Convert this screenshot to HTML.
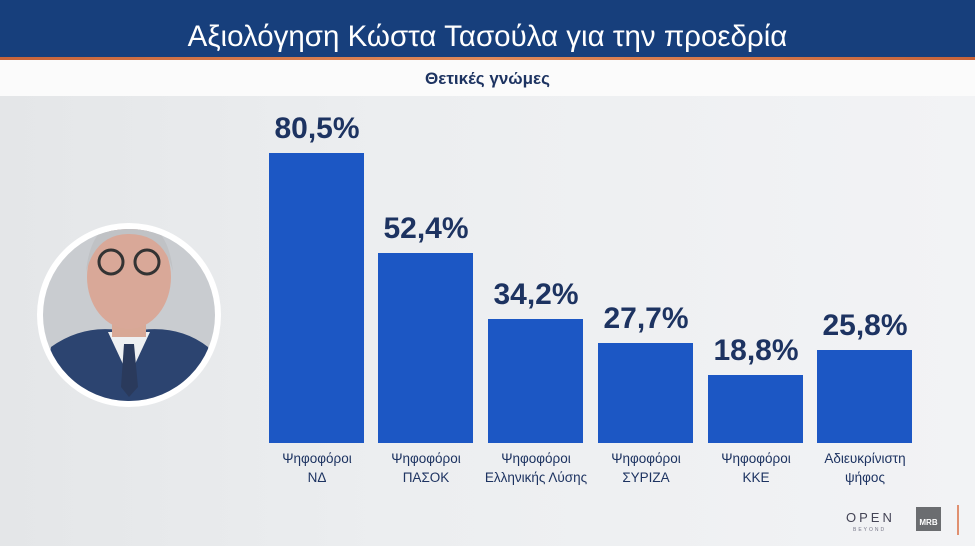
<!DOCTYPE html>
<html><head><meta charset="utf-8"><style>
body{margin:0;width:975px;height:546px;overflow:hidden;position:relative;font-family:"Liberation Sans","DejaVu Sans",sans-serif;background:linear-gradient(90deg,#e4e6e8,#eceef0 40%,#f2f3f5);}
.hdr{position:absolute;left:0;top:0;width:975px;height:57px;background:#173f7c;color:#fff;font-size:29.5px;text-align:center;line-height:74px;}
.or{position:absolute;left:0;top:57px;width:975px;height:3px;background:linear-gradient(90deg,#c8643a,#e08a5a 50%,#c8643a);}
.sub{position:absolute;left:0;top:60px;width:975px;height:36px;background:#fbfbfb;color:#1d3361;font-weight:bold;font-size:17px;text-align:center;line-height:38px;}
.bar{position:absolute;background:#1c57c4;width:95px;bottom:103px;}
.v{position:absolute;width:130px;text-align:center;font-weight:bold;font-size:30px;color:#1d3361;}
.l{position:absolute;width:130px;text-align:center;font-size:13.5px;color:#1d3361;top:449px;line-height:19px;}
</style></head><body>
<div class="hdr">Αξιολόγηση Κώστα Τασούλα για την προεδρία</div>
<div class="or"></div>
<div class="sub">Θετικές γνώμες</div>
<svg style="position:absolute;left:36px;top:222px" width="186" height="186">
<defs><clipPath id="c"><circle cx="93" cy="93" r="86"/></clipPath></defs>
<circle cx="93" cy="93" r="92" fill="#fff"/>
<g clip-path="url(#c)">
<rect width="186" height="186" fill="#c9ccd0"/>
<path d="M5 186 L15 125 Q50 100 93 110 Q140 100 172 125 L182 186Z" fill="#2c4470"/>
<path d="M72 110 L93 155 L114 110Z" fill="#eef0f2"/>
<path d="M88 122 L98 122 L102 165 L93 175 L85 165Z" fill="#2a3a5c"/>
<rect x="76" y="70" width="34" height="45" fill="#d8a896"/>
<ellipse cx="93" cy="55" rx="42" ry="52" fill="#d9a898"/>
<path d="M50 50 Q55 -2 93 -2 Q132 -2 137 50 Q128 12 93 12 Q60 12 50 50Z" fill="#c0c2c5"/>
<circle cx="75" cy="40" r="12" fill="none" stroke="#333" stroke-width="3"/>
<circle cx="111" cy="40" r="12" fill="none" stroke="#333" stroke-width="3"/>
</g></svg>
<div class="bar" style="left:269px;height:290px"></div>
<div class="bar" style="left:378px;height:190px"></div>
<div class="bar" style="left:488px;height:124px"></div>
<div class="bar" style="left:598px;height:100px"></div>
<div class="bar" style="left:708px;height:68px"></div>
<div class="bar" style="left:817px;height:93px"></div>
<div class="v" style="left:252px;top:112px">80,5%</div>
<div class="v" style="left:361px;top:212px">52,4%</div>
<div class="v" style="left:471px;top:278px">34,2%</div>
<div class="v" style="left:581px;top:302px">27,7%</div>
<div class="v" style="left:691px;top:334px">18,8%</div>
<div class="v" style="left:800px;top:309px">25,8%</div>
<div class="l" style="left:252px">Ψηφοφόροι<br>ΝΔ</div>
<div class="l" style="left:361px">Ψηφοφόροι<br>ΠΑΣΟΚ</div>
<div class="l" style="left:471px">Ψηφοφόροι<br>Ελληνικής Λύσης</div>
<div class="l" style="left:581px">Ψηφοφόροι<br>ΣΥΡΙΖΑ</div>
<div class="l" style="left:691px">Ψηφοφόροι<br>ΚΚΕ</div>
<div class="l" style="left:800px">Αδιευκρίνιστη<br>ψήφος</div>
<div style="position:absolute;left:846px;top:510px;font-size:13px;letter-spacing:3px;color:#445">OPEN</div>
<div style="position:absolute;left:853px;top:527px;font-size:5px;letter-spacing:2px;color:#778">BEYOND</div>
<div style="position:absolute;left:916px;top:507px;width:25px;height:24px;background:#6b6d70;color:#fff;font-size:8px;font-weight:bold;line-height:32px;text-align:center">MRB</div>
<div style="position:absolute;left:957px;top:505px;width:2px;height:30px;background:#e09070"></div>
</body></html>
